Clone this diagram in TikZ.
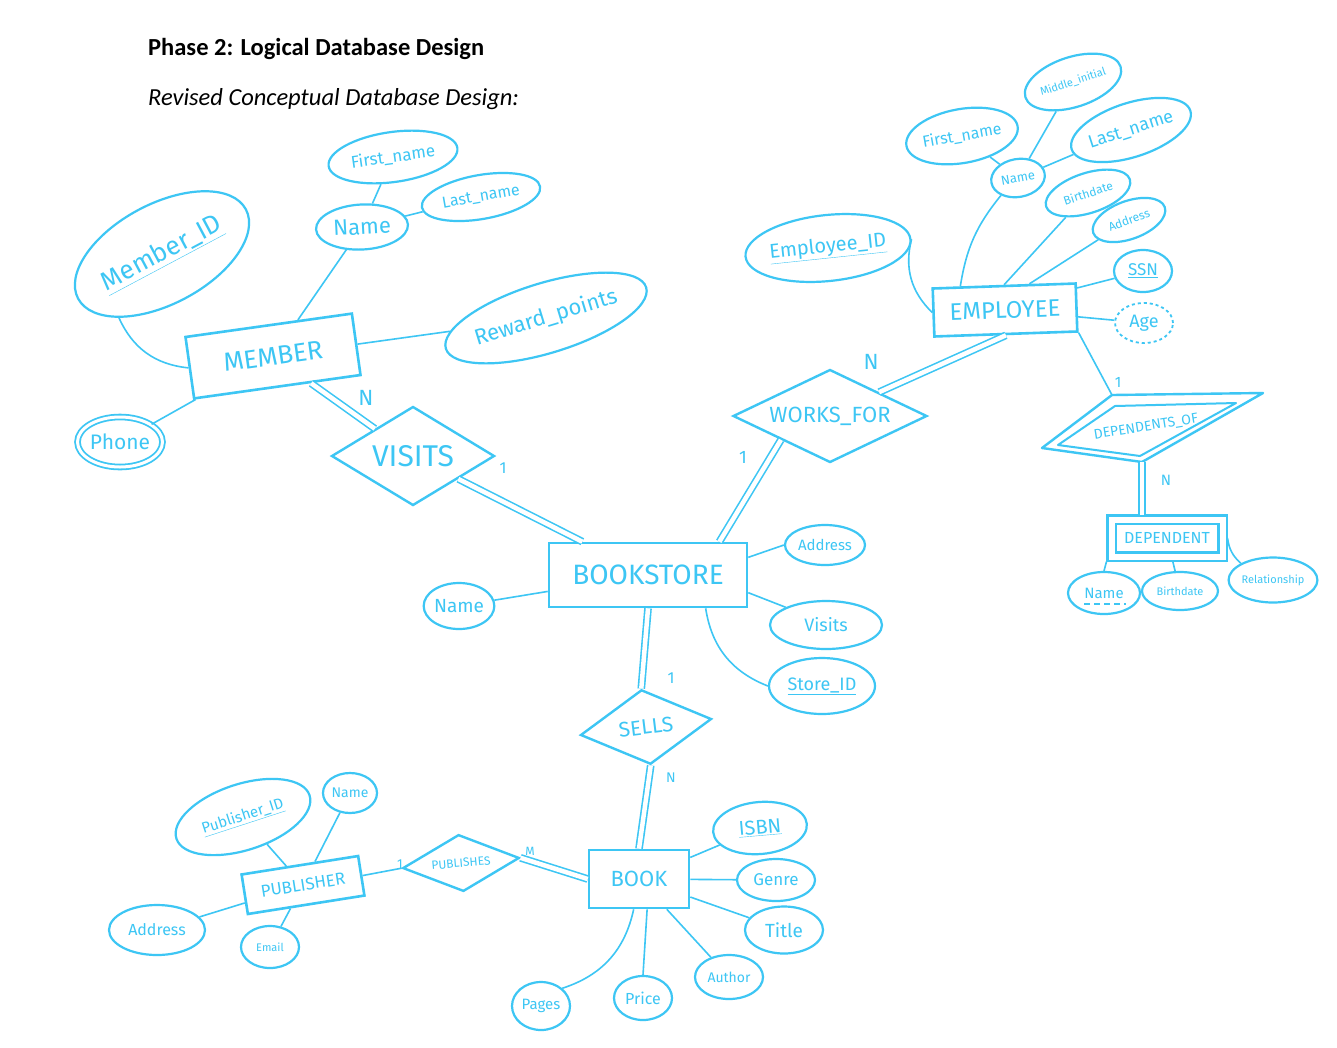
\documentclass[tikz,border=0pt]{standalone}
\usepackage{fontspec}
\setmainfont{Carlito}
\newfontfamily\hand{Fira Sans}
\usetikzlibrary{shapes.geometric,calc}
\definecolor{sk}{RGB}{61,198,244}
\tikzset{
  fs/.style={font=\hand\fontsize{#1}{#1}\selectfont},
  ent/.style={draw=sk, line width=2.6pt, rectangle, inner sep=0pt, text=sk},
  attr/.style={draw=sk, line width=2.2pt, ellipse, inner sep=0pt, text=sk},
  rel/.style={draw=sk, line width=2.4pt, diamond, aspect=2, inner sep=0pt, text=sk},
  conn/.style={draw=sk, line width=1.6pt},
  tot/.style={draw=sk, line width=1.6pt, double=white, double distance=4.5pt},
  card/.style={text=sk, inner sep=0pt},
}
\begin{document}
\begin{tikzpicture}[x=1pt,y=-1pt]
\useasboundingbox[fill=white] (0,0) rectangle (1337,1047);

% titles
\node[anchor=base west, inner sep=0pt, font=\bfseries\fontsize{24.5}{28}\selectfont] (title) at (148,55) {Phase 2: Logical Database Design};
\node[anchor=base west, inner sep=0pt, font=\itshape\fontsize{24.5}{28}\selectfont] (subtitle) at (148,105) {Revised Conceptual Database Design:};

% ---------------- MEMBER ----------------
\node[ent, fs=26, minimum width=168, minimum height=62, rotate=8] (member) at (273,356) {MEMBER};
\node[attr, fs=26, minimum width=190, minimum height=100, rotate=28] (mid) at (162,254) {\underline{Member\_ID}};
\node[attr, fs=22, minimum width=92, minimum height=45, rotate=3] (mname) at (362,227) {Name};
\node[attr, fs=17, minimum width=130, minimum height=50, rotate=8] (mfname) at (393,157) {First\_name};
\node[attr, fs=16, minimum width=120, minimum height=44, rotate=10] (mlname) at (481,197) {Last\_name};
\node[attr, fs=22, minimum width=205, minimum height=70, rotate=17] (reward) at (546,318) {Reward\_points};
\node[attr, fs=21, minimum width=84, minimum height=50, double=white, double distance=3pt, line width=1.8pt] (phone) at (120,442) {Phone};

\draw[conn] (mid.south west) to[bend right=30] (member.west);
\draw[conn] (mname) -- (member);
\draw[conn] (mfname) -- (mname);
\draw[conn] (mlname) -- (mname);
\draw[conn] (member.east) -- (reward);
\draw[conn] (phone) -- (member);

% ---------------- VISITS ----------------
\node[rel, fs=30, minimum width=163, minimum height=99] (visits) at (413,456) {VISITS};
\draw[tot] (member) -- (visits);
\node[card, fs=22] (nvis) at (366,398) {N};

% ---------------- BOOKSTORE ----------------
\node[ent, fs=28, minimum width=198, minimum height=64] (bookstore) at (648,575) {BOOKSTORE};
\draw[tot] (visits) -- (bookstore);
\node[card, fs=16] (onevis) at (503,468) {1};
\node[attr, fs=19, minimum width=68, minimum height=46] (bsname) at (459,606) {Name};
\node[attr, fs=15, minimum width=80, minimum height=40] (bsaddr) at (825,545) {Address};
\node[attr, fs=18, minimum width=112, minimum height=48] (bsvisits) at (826,625) {Visits};
\node[attr, fs=18, minimum width=106, minimum height=56] (storeid) at (822,686) {\underline{Store\_ID}};
\draw[conn] (bsname) -- (bookstore);
\draw[conn] (bookstore.10) -- (bsaddr.west);
\draw[conn] (bookstore.-10) -- (bsvisits.north west);
\draw[conn] (bookstore.-30) to[bend right=30] (storeid.west);

% ---------------- WORKS_FOR ----------------
\node[rel, fs=22, minimum width=194, minimum height=93] (worksfor) at (830,416) {WORKS\_FOR};
\draw[tot] (bookstore.25) -- (worksfor.south west);
\node[card, fs=18] (onewf) at (743,457) {1};
\node[card, fs=22] (nwf) at (871,362) {N};

% ---------------- EMPLOYEE ----------------
\node[ent, fs=24, minimum width=143, minimum height=48, rotate=2] (employee) at (1005,310) {EMPLOYEE};
\draw[tot] (worksfor.north east) -- (employee.south);
\node[attr, fs=20, minimum width=165, minimum height=66, rotate=6] (empid) at (828,248) {\underline{Employee\_ID}};
\node[attr, fs=13, minimum width=54, minimum height=38, rotate=10] (ename) at (1018,178) {Name};
\node[attr, fs=16, minimum width=112, minimum height=54, rotate=10] (efname) at (962,136) {First\_name};
\node[attr, fs=11, minimum width=100, minimum height=50, rotate=18] (emid) at (1073,82) {Middle\_initial};
\node[attr, fs=18, minimum width=120, minimum height=54, rotate=18] (elname) at (1131,130) {Last\_name};
\node[attr, fs=12, minimum width=88, minimum height=40, rotate=18] (ebirth) at (1088,193) {Birthdate};
\node[attr, fs=12, minimum width=76, minimum height=38, rotate=20] (eaddr) at (1129,220) {Address};
\node[attr, fs=17, minimum width=58, minimum height=42] (essn) at (1143,271) {\underline{SSN}};
\node[attr, fs=18, minimum width=58, minimum height=40, dashed, line width=1.8pt] (eage) at (1144,323) {Age};
\draw[conn] (empid.east) to[bend right=30] (employee.west);
\draw[conn] (ename.south west) to[bend right=15] (employee.150);
\draw[conn] (efname) -- (ename);
\draw[conn] (emid) -- (ename);
\draw[conn] (elname) -- (ename);
\draw[conn] (ebirth) -- (employee.north);
\draw[conn] (eaddr) -- (employee.45);
\draw[conn] (essn) -- (employee.15);
\draw[conn] (employee) -- (eage);

% ---------------- DEPENDENTS_OF ----------------
\coordinate (dl) at (1042,448);
\coordinate (dt) at (1112,395);
\coordinate (dr) at (1263,393);
\coordinate (db) at (1142,462);
\coordinate (dil) at (1058,445);
\coordinate (dit) at (1115,406);
\coordinate (dir) at (1236,403);
\coordinate (dib) at (1140,456);
\draw[draw=sk, line width=2.4pt, line join=round] (dl) -- (dt) -- (dr) -- (db) -- cycle;
\draw[draw=sk, line width=2pt, line join=round] (dil) -- (dit) -- (dir) -- (dib) -- cycle;
\node[card, fs=14, rotate=9] (depof) at (1146,427) {DEPENDENTS\_OF};
\draw[conn] (employee.south east) -- (dt);
\node[card, fs=15] (onedep) at (1118,382) {1};

% ---------------- DEPENDENT ----------------
\node[ent, fs=16, minimum width=111, minimum height=37, line width=2.2pt, double=white, double distance=6pt, outer sep=5pt] (dependent) at (1167,538) {DEPENDENT};
\draw[tot] (db) -- (db |- dependent.north);
\node[card, fs=15] (ndep) at (1166,480) {N};
\node[attr, fs=15, minimum width=72, minimum height=42] (dname) at (1104,593) {Name};
\draw[draw=sk, line width=1.4pt, dash pattern=on 6pt off 4pt] ($(dname.center)+(-20,11)$) -- ($(dname.center)+(22,11)$);
\node[attr, fs=11, minimum width=76, minimum height=38] (dbirth) at (1180,591) {Birthdate};
\node[attr, fs=11, minimum width=88, minimum height=45] (drel) at (1273,580) {Relationship};
\draw[conn] (dependent.south west) -- (dname.north);
\draw[conn] (dependent) -- (dbirth);
\draw[conn] (dependent.east) to[bend right=20] (drel.north west);

% ---------------- SELLS ----------------
\node[rel, fs=21, minimum width=132, minimum height=75, rotate=7] (sells) at (646,727) {SELLS};
\draw[tot] (bookstore.south) -- (sells.north);
\node[card, fs=16] (onesells) at (671,678) {1};

% ---------------- BOOK ----------------
\node[ent, fs=22, minimum width=100, minimum height=58] (book) at (639,879) {BOOK};
\draw[tot] (sells.south) -- (book.north);
\node[card, fs=14] (nsells) at (671,778) {N};
\node[attr, fs=20, minimum width=94, minimum height=52, rotate=5] (isbn) at (760,828) {\underline{ISBN}};
\node[attr, fs=17, minimum width=78, minimum height=42] (genre) at (776,880) {Genre};
\node[attr, fs=19, minimum width=78, minimum height=47] (title2) at (784,930) {Title};
\node[attr, fs=14, minimum width=68, minimum height=44] (author) at (729,977) {Author};
\node[attr, fs=16, minimum width=58, minimum height=44] (price) at (643,998) {Price};
\node[attr, fs=15, minimum width=58, minimum height=48] (pages) at (541,1006) {Pages};
\draw[conn] (book) -- (isbn);
\draw[conn] (book) -- (genre);
\draw[conn] (book) -- (title2);
\draw[conn] (book) -- (author);
\draw[conn] (book.-75) -- (price.north);
\draw[conn] (book.-100) to[bend left=30] (pages.north east);

% ---------------- PUBLISHES / PUBLISHER ----------------
\node[rel, fs=12, minimum width=117, minimum height=57, rotate=5] (publishes) at (461,863) {PUBLISHES};
\draw[tot] (publishes.east) -- (book.west);
\node[card, fs=12] (mpub) at (530,851) {M};
\node[ent, fs=17, minimum width=118, minimum height=40, rotate=9] (publisher) at (303,885) {PUBLISHER};
\draw[conn] (publisher.east) -- (publishes.west);
\node[card, fs=13] (onepub) at (400,864) {1};
\node[attr, fs=15, minimum width=140, minimum height=66, rotate=18] (pubid) at (243,817) {\underline{Publisher\_ID}};
\node[attr, fs=14, minimum width=54, minimum height=40] (pname) at (350,793) {Name};
\node[attr, fs=16, minimum width=96, minimum height=50] (paddr) at (157,930) {Address};
\node[attr, fs=11, minimum width=58, minimum height=42] (pemail) at (270,947) {Email};
\draw[conn] (pubid) -- (publisher);
\draw[conn] (pname) -- (publisher);
\draw[conn] (paddr) -- (publisher);
\draw[conn] (pemail) -- (publisher);
\end{tikzpicture}
\end{document}
